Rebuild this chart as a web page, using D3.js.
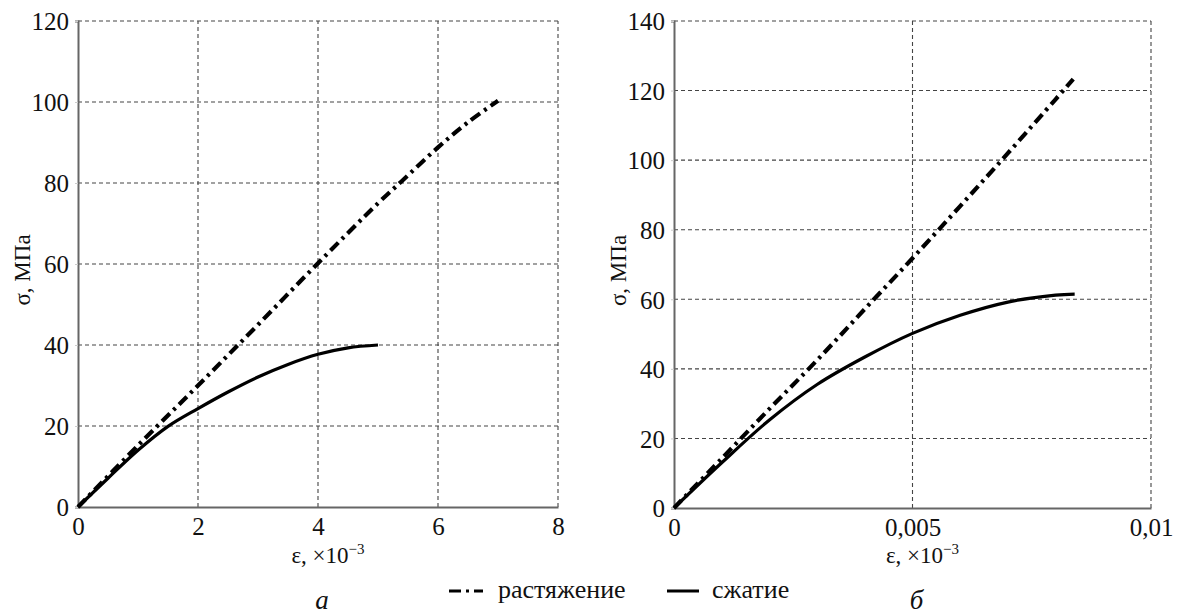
<!DOCTYPE html>
<html><head><meta charset="utf-8">
<script src="https://cdn.jsdelivr.net/npm/d3@7"></script>
<style>
body{margin:0;background:#fff;}
svg{display:block;}
text{font-family:"Liberation Serif","Times New Roman",Tinos,Times,"DejaVu Serif",serif;fill:#111;}
</style></head>
<body>
<script>
// Panel a
const aXTicks = [0, 2, 4, 6, 8];
const aYTicks = [0, 20, 40, 60, 80, 100, 120];
const aTensionX = [0, 1, 2, 3, 4, 5, 5.4, 6, 6.5, 7];
const aTensionY = [0, 15.2, 30, 45, 60.2, 75, 80.5, 88.8, 95, 100.3];
const aCompX = [0, 0.5, 1, 1.5, 2, 2.5, 3, 3.5, 4, 4.5, 5];
const aCompY = [0, 7.1, 14, 19.9, 24.3, 28.4, 32.1, 35.2, 37.7, 39.3, 40];
// Panel б
const bXTicks = [0, 0.005, 0.01];
const bXTickLabels = ["0", "0,005", "0,01"];
const bYTicks = [0, 20, 40, 60, 80, 100, 120, 140];
const bTensionX = [0, 0.001, 0.002, 0.003, 0.004, 0.005, 0.006, 0.007, 0.008, 0.00837];
const bTensionY = [0, 14.2, 28.5, 42.5, 57.2, 71.8, 86.8, 102, 117.5, 123.3];
const bCompX = [0, 0.001, 0.002, 0.003, 0.004, 0.005, 0.006, 0.007, 0.008, 0.0084];
const bCompY = [0, 13, 25.3, 35.5, 43.4, 50.2, 55.4, 59.2, 61.2, 61.5];

const legendLabels = ["растяжение", "сжатие"];
const panelLabels = ["а", "б"];

const FONT = '"Liberation Serif","Times New Roman",Tinos,Times,"DejaVu Serif",serif';
const W = 1186, H = 614;
const svg = d3.select("body").append("svg").attr("width", W).attr("height", H)
  .attr("font-family", FONT);

const panels = [
  {x0: 78, x1: 558, y0: 507, y1: 21, xDom: [0, 8], yDom: [0, 120], xt: aXTicks, xtl: aXTicks.map(String), yt: aYTicks,
   ten: aTensionX.map((x, i) => [x, aTensionY[i]]), comp: aCompX.map((x, i) => [x, aCompY[i]]), lab: panelLabels[0]},
  {x0: 674, x1: 1151, y0: 508, y1: 21, xDom: [0, 0.01], yDom: [0, 140], xt: bXTicks, xtl: bXTickLabels, yt: bYTicks,
   ten: bTensionX.map((x, i) => [x, bTensionY[i]]), comp: bCompX.map((x, i) => [x, bCompY[i]]), lab: panelLabels[1]}
];

const DASHDOT = "11,5,3,5";

panels.forEach(p => {
  const x = d3.scaleLinear().domain(p.xDom).range([p.x0, p.x1]);
  const y = d3.scaleLinear().domain(p.yDom).range([p.y0, p.y1]);
  const g = svg.append("g");
  // grid
  g.selectAll(".hg").data(p.yt.filter(v => v !== 0)).enter().append("line")
    .attr("x1", p.x0).attr("x2", p.x1).attr("y1", d => y(d)).attr("y2", d => y(d))
    .attr("stroke", "#444").attr("stroke-width", 1.1).attr("stroke-dasharray", "4,3");
  g.selectAll(".vg").data(p.xt.filter(v => v !== 0)).enter().append("line")
    .attr("x1", d => x(d)).attr("x2", d => x(d)).attr("y1", p.y0).attr("y2", p.y1)
    .attr("stroke", "#444").attr("stroke-width", 1.1).attr("stroke-dasharray", "4,3");
  // axes
  const ya = d3.axisLeft(y).tickValues(p.yt).tickSize(3).tickPadding(6).tickFormat(d3.format("d"));
  const yg = g.append("g").attr("transform", `translate(${p.x0},0)`).call(ya).attr("font-family", FONT);
  const xa = d3.axisBottom(x).tickValues(p.xt).tickSize(0).tickPadding(9).tickFormat((d, i) => p.xtl[i]);
  const xg = g.append("g").attr("transform", `translate(0,${p.y0})`).call(xa).attr("font-family", FONT);
  [yg, xg].forEach(a => {
    a.select(".domain").attr("stroke", "#666").attr("stroke-width", 2);
    a.selectAll(".tick line").attr("stroke", "#ccc");
    a.selectAll("text").style("font-family", FONT).style("font-size", "25px").attr("fill", "#111");
  });
  yg.selectAll("text").attr("dy", "0.35em");
  xg.selectAll("text").attr("dy", "0.75em");
  // lines
  const line = d3.line().x(d => x(d[0])).y(d => y(d[1])).curve(d3.curveCatmullRom.alpha(0.5));
  g.append("path").datum(p.comp).attr("d", line).attr("fill", "none").attr("stroke", "#000").attr("stroke-width", 3.2);
  g.append("path").datum(p.ten).attr("d", line).attr("fill", "none").attr("stroke", "#000").attr("stroke-width", 4.2)
    .attr("stroke-dasharray", DASHDOT);
  // axis labels
  const cx = (p.x0 + p.x1) / 2;
  const xl = g.append("text").attr("x", cx + 10).attr("y", 563).attr("text-anchor", "middle").style("font-size", "23px");
  xl.append("tspan").text("ε, ×10");
  xl.append("tspan").text("−3").attr("dy", -9).style("font-size", "15px");
  g.append("text").attr("transform", `translate(${p.x0 - 48},${(p.y0 + p.y1) / 2 + 6}) rotate(-90)`)
    .attr("text-anchor", "middle").style("font-size", "23px").text("σ, МПа");
  g.append("text").attr("x", cx + 4).attr("y", 609).attr("text-anchor", "middle")
    .style("font-size", "27px").style("font-style", "italic").text(p.lab);
});

// legend
const lg = svg.append("g");
lg.append("line").attr("x1", 449).attr("x2", 483).attr("y1", 591).attr("y2", 591)
  .attr("stroke", "#000").attr("stroke-width", 3).attr("stroke-dasharray", "12,5,3,5");
lg.append("text").attr("x", 498).attr("y", 598).style("font-size", "26px").text(legendLabels[0]);
lg.append("line").attr("x1", 667).attr("x2", 699).attr("y1", 591).attr("y2", 591)
  .attr("stroke", "#000").attr("stroke-width", 3);
lg.append("text").attr("x", 712).attr("y", 598).style("font-size", "26px").text(legendLabels[1]);
</script>
</body></html>
